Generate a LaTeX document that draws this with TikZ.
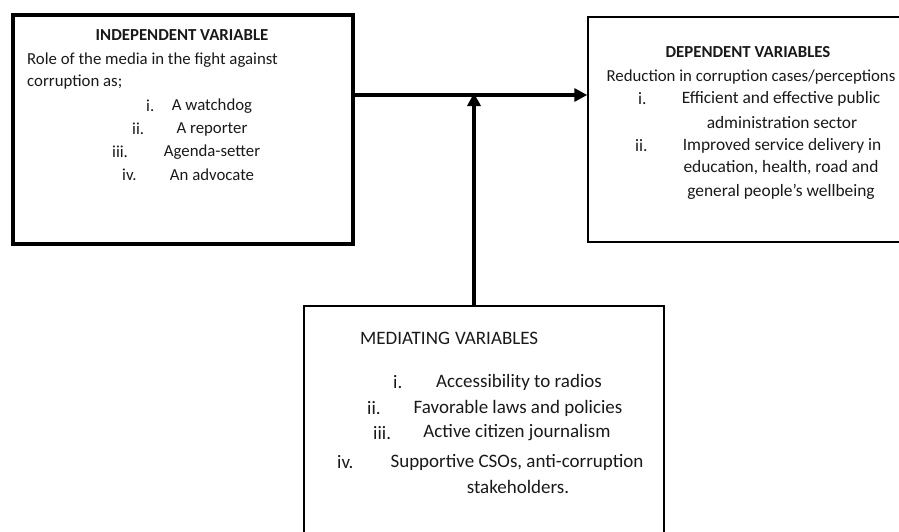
\documentclass[tikz,border=0pt]{standalone}
\usepackage{fontspec}
\setmainfont{Carlito}
\usetikzlibrary{arrows.meta,calc}
\begin{document}
\begin{tikzpicture}[x=1pt,y=-1pt,
  txt/.style={inner sep=0pt,font=\fontsize{16.8}{19}\selectfont,text=black!90},
  dtxt/.style={txt,font=\fontsize{17.4}{19}\selectfont},
  mtxt/.style={txt,font=\fontsize{19}{21}\selectfont},
  ttl/.style={txt,font=\fontsize{16.8}{19}\selectfont\bfseries},
  num/.style={anchor=west},
  thickbox/.style={draw,line width=4pt,inner sep=0pt},
  thinbox/.style={draw,line width=1.5pt,inner sep=0pt},
  arr/.style={line width=4pt,-{Triangle[length=13pt,width=13pt]}}]
\useasboundingbox (0,0) rectangle (899,531);
% boxes
\node[thickbox,minimum width=340pt,minimum height=229pt] (indep) at (183,129.5) {};
\node[thinbox,minimum width=340pt,minimum height=225pt] (dep) at (758,129.5) {};
\node[thinbox,minimum width=360pt,minimum height=260pt] (med) at (484,436) {};
% independent text
\node[ttl] (t1) at (182,35) {INDEPENDENT VARIABLE};
\node[txt,anchor=west] (t2) at (27,60) {Role of the media in the fight against};
\node[txt,anchor=west] (t3) at (27,82) {corruption as;};
\node[txt,num] (n1) at (146,106) {i.};
\node[txt] (a1) at (212,106) {A watchdog};
\node[txt,num] (n2) at (132,129) {ii.};
\node[txt] (a2) at (212,129) {A reporter};
\node[txt,num] (n3) at (112,152) {iii.};
\node[txt] (a3) at (212,152) {Agenda-setter};
\node[txt,num] (n4) at (122,175) {iv.};
\node[txt] (a4) at (212,175) {An advocate};
% dependent text
\node[ttl] (d1) at (748,52) {DEPENDENT VARIABLES};
\node[txt] (d2) at (751,77) {Reduction in corruption cases/perceptions};
\node[dtxt,num] (dn1) at (638,99) {i.};
\node[dtxt] (d3) at (781,99) {Efficient and effective public};
\node[dtxt] (d4) at (782,123) {administration sector};
\node[dtxt,num] (dn2) at (635,146) {ii.};
\node[dtxt] (d5) at (782,146) {Improved service delivery in};
\node[dtxt] (d6) at (781,168) {education, health, road and};
\node[dtxt] (d7) at (781,192) {general people’s wellbeing};
% mediating text
\node[mtxt,anchor=west] (m1) at (360,338) {MEDIATING\hspace{5pt}VARIABLES};
\node[mtxt,num] (mn1) at (393,382) {i.};
\node[mtxt] (m2) at (519,382) {Accessibility to radios};
\node[mtxt,num] (mn2) at (367,408) {ii.};
\node[mtxt] (m3) at (518,408) {Favorable laws and policies};
\node[mtxt,num] (mn3) at (373,433) {iii.};
\node[mtxt] (m4) at (517,433) {Active citizen journalism};
\node[mtxt,num] (mn4) at (337,462) {iv.};
\node[mtxt] (m5) at (517,462) {Supportive CSOs, anti-corruption};
\node[mtxt] (m6) at (518,487) {stakeholders.};
% connectors
\coordinate (j) at (474,95);
\draw[arr] (indep.east |- j) -- (dep.west |- j);
\draw[arr] (med.north -| j) -- ([yshift=2pt]j);
\end{tikzpicture}
\end{document}
